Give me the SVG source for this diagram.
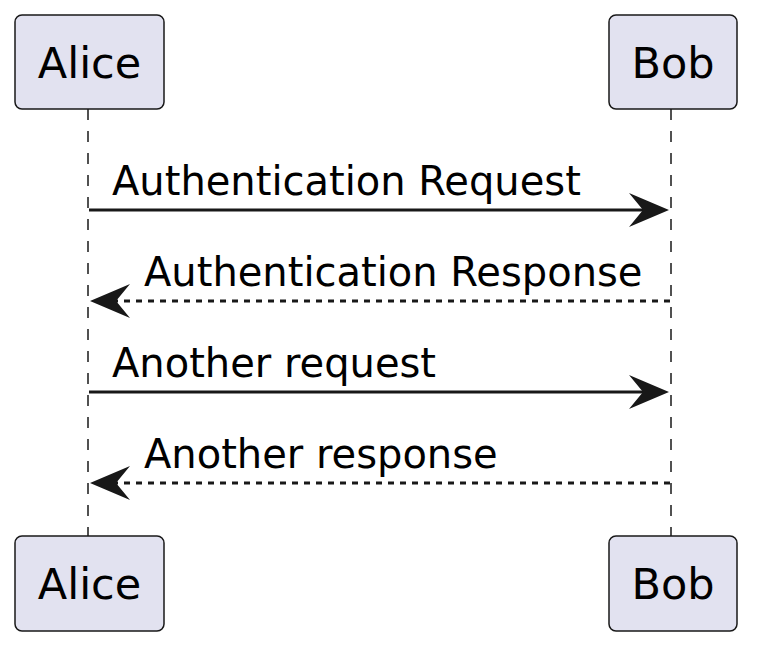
<svg xmlns="http://www.w3.org/2000/svg" width="768" height="653" viewBox="0 0 768 653">
<style>
.box{fill:#E2E2F0;stroke:#181818;stroke-width:1.5}
.life{stroke:#181818;stroke-width:1.5;stroke-dasharray:11,11}
.msg{stroke:#181818;stroke-width:3;fill:none}
.dash{stroke-dasharray:6,6}
.head{fill:#181818}
.pt{font-family:"DejaVu Sans",sans-serif;font-size:43px;fill:#000}
.lt{font-family:"DejaVu Sans",sans-serif;font-size:40px;fill:#000}
</style>
<g id="lifelines">
<line class="life" x1="88" y1="109" x2="88" y2="536"/>
<line class="life" x1="671" y1="109" x2="671" y2="536"/>
</g>
<g id="alice-top"><rect class="box" x="15" y="15" width="149" height="94" rx="7"/><text class="pt" x="89.5" y="78" text-anchor="middle">Alice</text></g>
<g id="bob-top"><rect class="box" x="609" y="15" width="128" height="94" rx="7"/><text class="pt" x="673" y="78" text-anchor="middle">Bob</text></g>
<g id="alice-bottom"><rect class="box" x="15" y="536" width="149" height="95" rx="7"/><text class="pt" x="89.5" y="599" text-anchor="middle">Alice</text></g>
<g id="bob-bottom"><rect class="box" x="609" y="536" width="128" height="95" rx="7"/><text class="pt" x="673" y="599" text-anchor="middle">Bob</text></g>
<g id="connectors">
<line class="msg" x1="89" y1="210" x2="660" y2="210"/>
<path class="head" d="M669,210 L629,193 L643,210 L629,227 Z"/>
<text class="lt" x="112" y="195">Authentication Request</text>
<line class="msg dash" x1="100" y1="301" x2="670" y2="301"/>
<path class="head" d="M90,301 L130,284 L116,301 L130,318 Z"/>
<text class="lt" x="144" y="286">Authentication Response</text>
<line class="msg" x1="89" y1="392" x2="660" y2="392"/>
<path class="head" d="M669,392 L629,375 L643,392 L629,409 Z"/>
<text class="lt" x="112" y="377">Another request</text>
<line class="msg dash" x1="100" y1="483" x2="670" y2="483"/>
<path class="head" d="M90,483 L130,466 L116,483 L130,500 Z"/>
<text class="lt" x="144" y="468">Another response</text>
</g>
</svg>
